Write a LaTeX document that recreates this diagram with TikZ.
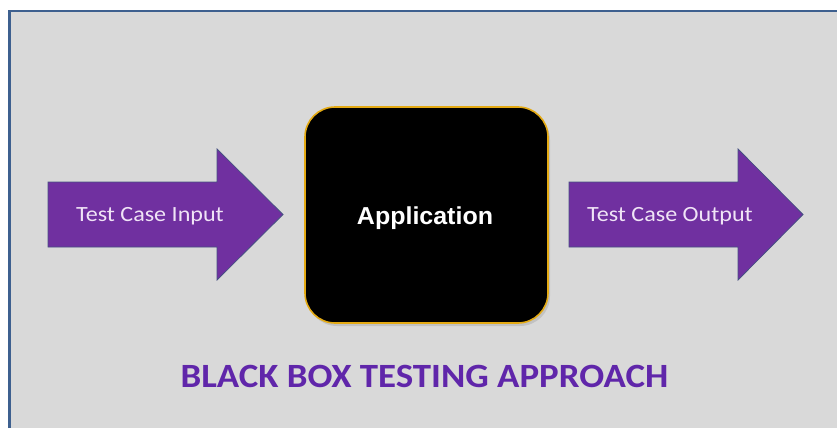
\documentclass[tikz,border=0pt]{standalone}
\usepackage{fontspec}
\setmainfont{Carlito}
\newfontfamily\arialfont{Liberation Sans}
\usetikzlibrary{shadows}
\definecolor{bggray}{RGB}{217,217,217}
\definecolor{framecol}{RGB}{62,96,143}
\definecolor{arrowpurple}{RGB}{112,48,160}
\definecolor{arrowedge}{RGB}{70,80,130}
\definecolor{titlepurple}{RGB}{96,38,170}
\definecolor{boxedge}{RGB}{228,170,20}
\definecolor{arrowtextcol}{RGB}{240,228,246}
\tikzset{
  px/.style={x=1pt,y=-1pt},
  bigarrow/.style={fill=arrowpurple,draw=arrowedge,line width=0.8pt,line join=miter},
  arrowtext/.style={text=arrowtextcol,font=\fontsize{21.7}{25}\selectfont,anchor=base,inner sep=0pt},
  appbox/.style={fill=black,draw=boxedge,line width=1.6pt,rounded corners=30pt},
  apptext/.style={text=white,font=\arialfont\bfseries\fontsize{24.5}{28}\selectfont,anchor=base,inner sep=0pt},
  titletext/.style={text=titlepurple,font=\bfseries\fontsize{34}{40}\selectfont,anchor=base,inner sep=0pt}
}
\begin{document}
\begin{tikzpicture}[px]
\useasboundingbox (0,0) rectangle (837,428);
% white surround and framed panel
\fill[white] (0,0) rectangle (837,428);
\fill[bggray] (8,10) rectangle (837,428);
\draw[framecol,line width=2.5pt] (9.25,428) -- (9.25,11.25) -- (837,11.25);
% left arrow
\draw[bigarrow] (48,182) -- (217,182) -- (217,149) -- (283,214.5) -- (217,280) -- (217,247) -- (48,247) -- cycle;
\node[arrowtext] (inp) at (150,221.7) {\scalebox{1.11}[1]{Test Case Input}};
% application box
\draw[appbox,drop shadow={shadow xshift=2pt,shadow yshift=-3pt,opacity=0.25}] (305,107) rectangle (548,323);
\node[apptext] (app) at (425,224.3) {\scalebox{1.02}[1]{Application}};
% right arrow
\draw[bigarrow] (569,182) -- (738,182) -- (738,149) -- (803,214.5) -- (738,280) -- (738,247) -- (569,247) -- cycle;
\node[arrowtext] (out) at (670,221.7) {\scalebox{1.11}[1]{Test Case Output}};
% title
\node[titletext] (title) at (424.5,387) {\scalebox{1.085}[1]{BLACK BOX TESTING APPROACH}};
\end{tikzpicture}
\end{document}
